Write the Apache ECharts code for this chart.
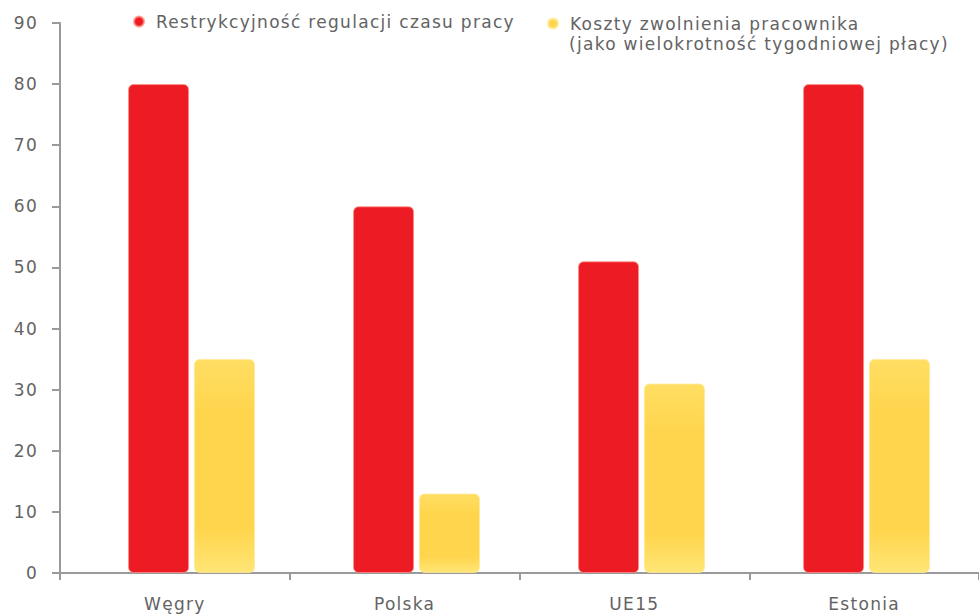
<!DOCTYPE html>
<html>
<head>
<meta charset="utf-8">
<script src="https://cdn.jsdelivr.net/npm/echarts@6/dist/echarts.min.js"></script>
<style>
  html, body { margin: 0; padding: 0; background: #fff; }
  #chart { width: 979px; height: 615px; }
  /* slightly airy lettering for every label */
  #chart svg text { letter-spacing: 1.3px; }
</style>
</head>
<body>
<div id="chart"></div>
<script>
// Countries on the category axis
const countries = ['Węgry', 'Polska', 'UE15', 'Estonia'];
// Working-time regulation restrictiveness
const restrictiveness = [80, 60, 51, 80];
// Dismissal costs (multiple of weekly wage)
const dismissalCost = [35, 13, 31, 35];
// Value axis ticks
const yTicks = [0, 10, 20, 30, 40, 50, 60, 70, 80, 90];

const seriesNames = [
  'Restrykcyjność regulacji czasu pracy',
  'Koszty zwolnienia pracownika'
];
const secondLine = '(jako wielokrotność tygodniowej płacy)';

const FONT = '"DejaVu Sans", sans-serif';
const TEXT = '#636363';
const AXIS = '#9a9a9a';

const chart = echarts.init(document.getElementById('chart'), null, { renderer: 'svg' });

const yellowFill = new echarts.graphic.LinearGradient(0, 0, 0, 1, [
  { offset: 0, color: '#FFDE63' },
  { offset: 0.25, color: '#FFD54D' },
  { offset: 0.8, color: '#FFD54D' },
  { offset: 1, color: '#FFE676' }
]);

chart.setOption({
  animation: false,
  backgroundColor: '#ffffff',
  grid: [
    // visible axes
    { left: 60, top: 23, width: 923, bottom: 42 },
    // bars
    { left: 79, top: 23, width: 904, bottom: 42 }
  ],
  legend: [
    {
      data: [seriesNames[0]],
      left: 128, top: 8,
      icon: 'circle', itemWidth: 10, itemHeight: 10,
      textStyle: { fontFamily: FONT, fontSize: 17, color: TEXT, padding: [0, 0, 0, 7] }
    },
    {
      data: [seriesNames[1]],
      left: 542, top: 10,
      icon: 'circle', itemWidth: 10, itemHeight: 10,
      textStyle: { fontFamily: FONT, fontSize: 17, color: TEXT, padding: [0, 0, 0, 7] }
    }
  ],
  graphic: [
    {
      type: 'text', left: 569, top: 35,
      style: { text: secondLine, font: '17px ' + FONT, fill: TEXT }
    }
  ],
  xAxis: [
    {
      type: 'category', gridIndex: 0, data: countries,
      boundaryGap: true,
      axisLine: { lineStyle: { color: AXIS, width: 2 } },
      axisTick: { show: true, length: 7, lineStyle: { color: AXIS, width: 2 } },
      axisLabel: { fontFamily: FONT, fontSize: 17, color: TEXT, margin: 22 }
    },
    {
      type: 'category', gridIndex: 1, data: countries,
      show: false
    }
  ],
  yAxis: [
    {
      type: 'value', gridIndex: 0, min: 0, max: 90, interval: 10,
      axisLine: { show: true, lineStyle: { color: AXIS, width: 2 } },
      axisTick: { show: true, length: 8, lineStyle: { color: AXIS, width: 2 } },
      splitLine: { show: false },
      axisLabel: {
        fontFamily: FONT, fontSize: 17, color: TEXT, margin: 22,
        formatter: v => (yTicks.includes(v) ? String(v) : '')
      }
    },
    {
      type: 'value', gridIndex: 1, min: 0, max: 90, interval: 10, show: false
    }
  ],
  series: [
    {
      name: seriesNames[0], type: 'bar',
      xAxisIndex: 1, yAxisIndex: 1,
      data: restrictiveness,
      barWidth: 61, barGap: '8%',
      itemStyle: {
        color: '#ED1C24', borderRadius: 5,
        borderColor: 'rgba(255,140,130,0.75)', borderWidth: 1
      }
    },
    {
      name: seriesNames[1], type: 'bar',
      xAxisIndex: 1, yAxisIndex: 1,
      data: dismissalCost,
      barWidth: 61, barGap: '8%',
      itemStyle: {
        color: yellowFill, borderRadius: 5,
        borderColor: 'rgba(255,232,150,0.8)', borderWidth: 1
      }
    }
  ]
});
</script>
</body>
</html>
